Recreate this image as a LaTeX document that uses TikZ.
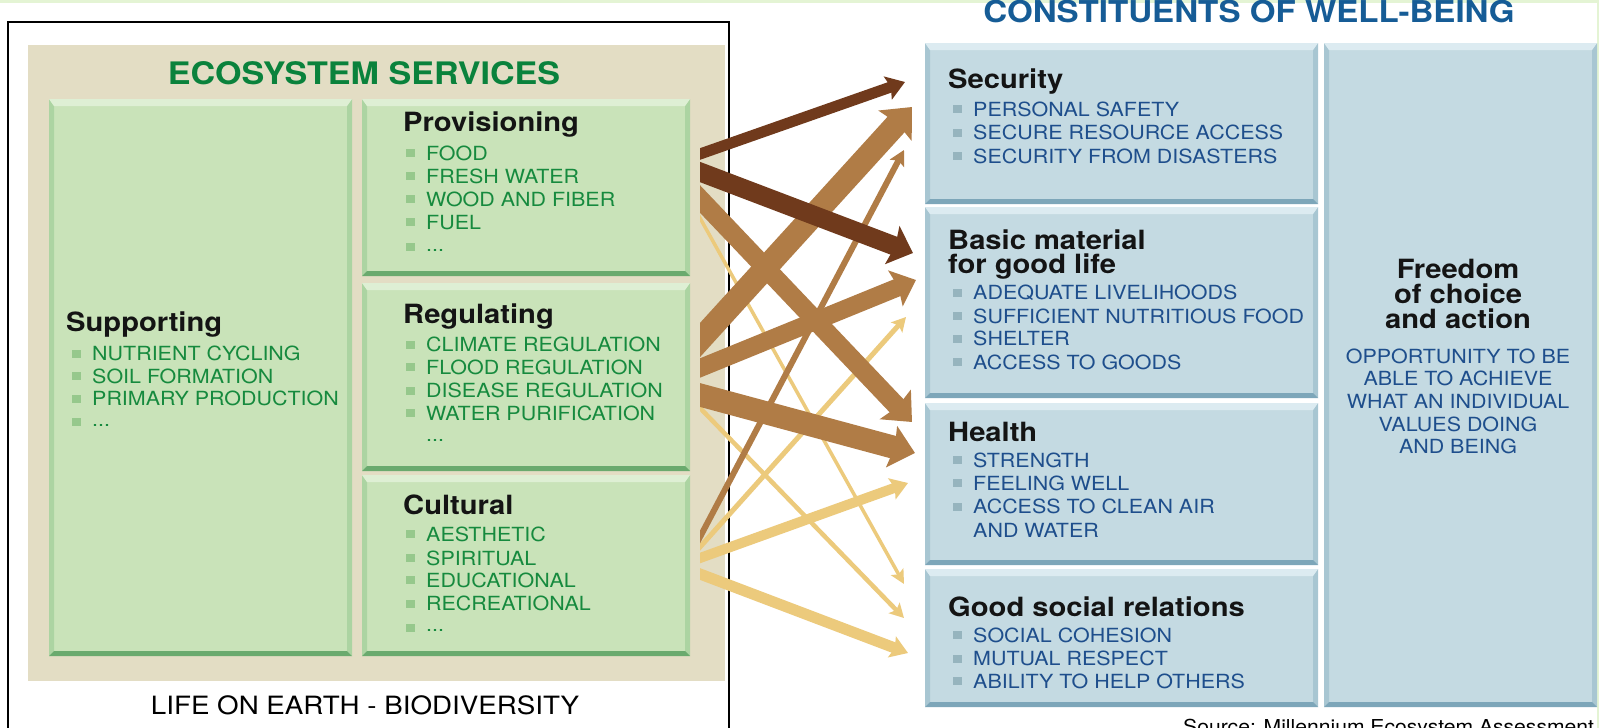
\documentclass[tikz,border=0pt]{standalone}
\usepackage{fontspec}
\setmainfont{TeX Gyre Heros}[FakeStretch=1.1]
\usetikzlibrary{arrows.meta,calc}
\definecolor{lgreen}{RGB}{22,138,62}
\definecolor{tgreen}{RGB}{10,130,60}
\definecolor{rblue}{RGB}{30,78,140}
\definecolor{tblue}{RGB}{22,92,150}
\definecolor{beige}{RGB}{227,221,196}
\definecolor{gfill}{RGB}{201,227,185}
\definecolor{gtop}{RGB}{222,239,212}
\definecolor{gside}{RGB}{172,212,162}
\definecolor{gbot}{RGB}{106,170,110}
\definecolor{bfill}{RGB}{196,218,226}
\definecolor{btop}{RGB}{220,235,241}
\definecolor{bside}{RGB}{168,198,210}
\definecolor{bbot}{RGB}{125,166,185}
\definecolor{lbulc}{RGB}{150,200,140}
\definecolor{rbulc}{RGB}{150,180,190}
\definecolor{dkb}{RGB}{112,58,28}
\definecolor{brtan}{RGB}{176,124,70}
\definecolor{yel}{RGB}{236,202,124}
\definecolor{topstrip}{RGB}{228,244,212}
\tikzset{
  bev/.style n args={4}{fill=#1, inner sep=0pt, outer sep=0pt, path picture={
    \fill[#3] (path picture bounding box.north west) -- ([xshift=5pt,yshift=-7pt]path picture bounding box.north west)
       -- ([xshift=5pt,yshift=5pt]path picture bounding box.south west) -- (path picture bounding box.south west) -- cycle;
    \fill[#3] (path picture bounding box.north east) -- ([xshift=-5pt,yshift=-7pt]path picture bounding box.north east)
       -- ([xshift=-5pt,yshift=5pt]path picture bounding box.south east) -- (path picture bounding box.south east) -- cycle;
    \fill[#2] (path picture bounding box.north west) -- (path picture bounding box.north east)
       -- ([xshift=-5pt,yshift=-7pt]path picture bounding box.north east) -- ([xshift=5pt,yshift=-7pt]path picture bounding box.north west) -- cycle;
    \fill[#4] (path picture bounding box.south west) -- (path picture bounding box.south east)
       -- ([xshift=-5pt,yshift=5pt]path picture bounding box.south east) -- ([xshift=5pt,yshift=5pt]path picture bounding box.south west) -- cycle;
  }},
  greenbox/.style={bev={gfill}{gtop}{gside}{gbot}},
  bluebox/.style={bev={bfill}{btop}{bside}{bbot}},
  ltxt/.style={anchor=base west, inner sep=0pt, text=lgreen, font=\fontsize{19.5}{23}\selectfont},
  rtxt/.style={anchor=base west, inner sep=0pt, text=rblue, font=\fontsize{19.5}{23}\selectfont},
  ctxt/.style={anchor=base, inner sep=0pt, text=rblue, font=\fontsize{19.5}{23}\selectfont},
  hd/.style={anchor=base west, inner sep=0pt, text=black!92, font=\bfseries\fontsize{26.5}{24}\selectfont},
  chd/.style={anchor=base, inner sep=0pt, text=black!92, font=\bfseries\fontsize{26.5}{24}\selectfont},
  ttl/.style={anchor=base, inner sep=0pt},
  lbul/.style={fill=lbulc, minimum width=9pt, minimum height=8pt, inner sep=0pt},
  rbul/.style={fill=rbulc, minimum width=9pt, minimum height=8pt, inner sep=0pt},
  arr/.style n args={4}{#1, line width=#2, -{Stealth[length=#4, width=#3, inset=3pt]}},
}
\newcommand\LItem[4]{\node[ltxt] (#1) at (#2,#3) {#4}; \node[lbul] (#1b) at (#2-16,#3-6.8) {};}
\newcommand\RItem[4]{\node[rtxt] (#1) at (#2,#3) {#4}; \node[rbul] (#1b) at (#2-16,#3-7) {};}
\begin{document}
\begin{tikzpicture}[x=1pt,y=-1pt]
\useasboundingbox (0,0) rectangle (1599,728);
\fill[white] (0,0) rectangle (1599,728);
\fill[topstrip] (0,0) rectangle (1599,3);
\fill[topstrip] (1597,0) rectangle (1599,728);

% ---------- left side ----------
\node[draw=black, line width=2.2pt, minimum width=721pt, minimum height=718pt, inner sep=0pt] (life) at (368.5,381) {};
\node[fill=beige, minimum width=697pt, minimum height=636pt, inner sep=0pt] (es) at (376.5,363) {};
\node[greenbox, minimum width=303pt, minimum height=557pt] (sup) at (200.5,377.5) {};
\node[greenbox, minimum width=328pt, minimum height=177pt] (prov) at (526,187.5) {};
\node[greenbox, minimum width=328pt, minimum height=188pt] (reg) at (526,377) {};
\node[greenbox, minimum width=328pt, minimum height=181pt] (cul) at (526,565.5) {};

\node[ttl, text=tgreen, font=\bfseries\fontsize{31}{31}\selectfont] (esttl) at (364,84) {ECOSYSTEM SERVICES};
\node[anchor=base, inner sep=0pt, font=\fontsize{25.2}{26}\selectfont] (lifettl) at (365,714) {LIFE ON EARTH - BIODIVERSITY};

\node[hd] (provh) at (403,131) {Provisioning};
\LItem{p1}{426}{160}{FOOD}
\LItem{p2}{426}{183}{FRESH WATER}
\LItem{p3}{426}{206}{WOOD AND FIBER}
\LItem{p4}{426}{229}{FUEL}
\node[ltxt] (p5) at (426,251) {...};
\node[lbul] (p5b) at (410,247) {};

\node[hd] (regh) at (403,323) {Regulating};
\LItem{r1}{426}{351.5}{CLIMATE REGULATION}
\LItem{r2}{426}{374}{FLOOD REGULATION}
\LItem{r3}{426}{397.4}{DISEASE REGULATION}
\LItem{r4}{426}{420}{WATER PURIFICATION}
\node[ltxt] (r5) at (426,441) {...};

\node[hd] (culh) at (403,514) {Cultural};
\LItem{c1}{426}{541}{AESTHETIC}
\LItem{c2}{426}{565}{SPIRITUAL}
\LItem{c3}{426}{587}{EDUCATIONAL}
\LItem{c4}{426}{610.5}{RECREATIONAL}
\node[ltxt] (c5) at (426,631.5) {...};
\node[lbul] (c5b) at (410,627.5) {};

\node[hd] (suph) at (66,331) {Supporting};
\LItem{s1}{92}{360.7}{NUTRIENT CYCLING}
\LItem{s2}{92}{383}{SOIL FORMATION}
\LItem{s3}{92}{405.5}{PRIMARY PRODUCTION}
\node[ltxt] (s4) at (92,426) {...};
\node[lbul] (s4b) at (76,422) {};

% ---------- right side ----------
\node[ttl, text=tblue, font=\bfseries\fontsize{30.1}{31}\selectfont] (cwttl) at (1249,23) {CONSTITUENTS OF WELL-BEING};
\node[bluebox, minimum width=393pt, minimum height=161pt] (sec) at (1121.5,123.5) {};
\node[bluebox, minimum width=393pt, minimum height=191pt] (basic) at (1121.5,302.5) {};
\node[bluebox, minimum width=393pt, minimum height=162pt] (health) at (1121.5,484) {};
\node[bluebox, minimum width=393pt, minimum height=138pt] (social) at (1121.5,638) {};
\node[bluebox, minimum width=273pt, minimum height=664pt] (free) at (1460.5,375) {};

\node[hd] (sech) at (948,88) {Security};
\RItem{e1}{973}{116}{PERSONAL SAFETY}
\RItem{e2}{973}{139.6}{SECURE RESOURCE ACCESS}
\RItem{e3}{973}{163}{SECURITY FROM DISASTERS}

\node[hd] (basich1) at (948,249) {Basic material};
\node[hd] (basich2) at (948,273.5) {for good life};
\RItem{b1}{973}{299.7}{ADEQUATE LIVELIHOODS}
\RItem{b2}{973}{323}{SUFFICIENT NUTRITIOUS FOOD}
\RItem{b3}{973}{345.6}{SHELTER}
\RItem{b4}{973}{369}{ACCESS TO GOODS}

\node[hd] (healthh) at (948,441) {Health};
\RItem{h1}{973}{467}{STRENGTH}
\RItem{h2}{973}{490.4}{FEELING WELL}
\RItem{h3}{973}{513.8}{ACCESS TO CLEAN AIR}
\node[rtxt] (h4) at (973,537.3) {AND WATER};

\node[hd] (socialh) at (948,616.3) {Good social relations};
\RItem{g1}{973}{642.3}{SOCIAL COHESION}
\RItem{g2}{973}{665.8}{MUTUAL RESPECT}
\RItem{g3}{973}{688.2}{ABILITY TO HELP OTHERS}

\node[chd] (freeh1) at (1458,278.7) {Freedom};
\node[chd] (freeh2) at (1458,303.2) {of choice};
\node[chd] (freeh3) at (1458,328.7) {and action};
\node[ctxt] (f1) at (1458,363) {OPPORTUNITY TO BE};
\node[ctxt] (f2) at (1458,385.3) {ABLE TO ACHIEVE};
\node[ctxt] (f3) at (1458,408.8) {WHAT AN INDIVIDUAL};
\node[ctxt] (f4) at (1458,431.2) {VALUES DOING};
\node[ctxt] (f5) at (1458,453.7) {AND BEING};

\node[anchor=base west, inner sep=0pt, font=\fontsize{19.2}{22}\selectfont] (src) at (1183,733) {Source: Millennium Ecosystem Assessment};

% ---------- arrows ----------
\coordinate (sA) at (700,154);   \coordinate (tA) at (905,82);
\coordinate (sB) at (700,172);   \coordinate (tB) at (913,253);
\coordinate (sC) at (700,199);   \coordinate (tC) at (912,422);
\coordinate (sD) at (700,218);   \coordinate (tD) at (904,584);
\coordinate (sE) at (700,340);   \coordinate (tE) at (912,107);
\coordinate (sF) at (700,368);   \coordinate (tF) at (916,280);
\coordinate (sG) at (700,395);   \coordinate (tG) at (915,453);
\coordinate (sH) at (700,408);   \coordinate (tH) at (904,618);
\coordinate (sI) at (700,537);   \coordinate (tI) at (904,150);
\coordinate (sJ) at (700,547);   \coordinate (tJ) at (906,317);
\coordinate (sK) at (700,558);   \coordinate (tK) at (908,483);
\coordinate (sL) at (700,574);   \coordinate (tL) at (908,653);
\begin{scope}
\clip (700,0) rectangle (1000,728);
\draw[arr={yel}{3.5pt}{14pt}{14pt}] ($(sD)!-30pt!(tD)$) -- (tD);
\draw[arr={yel}{4.5pt}{15pt}{14pt}] ($(sH)!-30pt!(tH)$) -- (tH);
\draw[arr={yel}{5pt}{15pt}{14pt}] ($(sJ)!-30pt!(tJ)$) -- (tJ);
\draw[arr={yel}{10pt}{22pt}{17pt}] ($(sK)!-30pt!(tK)$) -- (tK);
\draw[arr={yel}{11pt}{22pt}{17pt}] ($(sL)!-30pt!(tL)$) -- (tL);
\draw[arr={brtan}{6pt}{16pt}{15pt}] ($(sI)!-30pt!(tI)$) -- (tI);
\draw[arr={brtan}{19pt}{42pt}{24pt}] ($(sC)!-30pt!(tC)$) -- (tC);
\draw[arr={brtan}{23pt}{44pt}{25pt}] ($(sE)!-30pt!(tE)$) -- (tE);
\draw[arr={brtan}{18pt}{38pt}{22pt}] ($(sF)!-30pt!(tF)$) -- (tF);
\draw[arr={brtan}{23pt}{42pt}{24pt}] ($(sG)!-30pt!(tG)$) -- (tG);
\draw[arr={dkb}{11pt}{24pt}{18pt}] ($(sA)!-30pt!(tA)$) -- (tA);
\draw[arr={dkb}{19pt}{40pt}{22pt}] ($(sB)!-30pt!(tB)$) -- (tB);
\end{scope}
\end{tikzpicture}
\end{document}
